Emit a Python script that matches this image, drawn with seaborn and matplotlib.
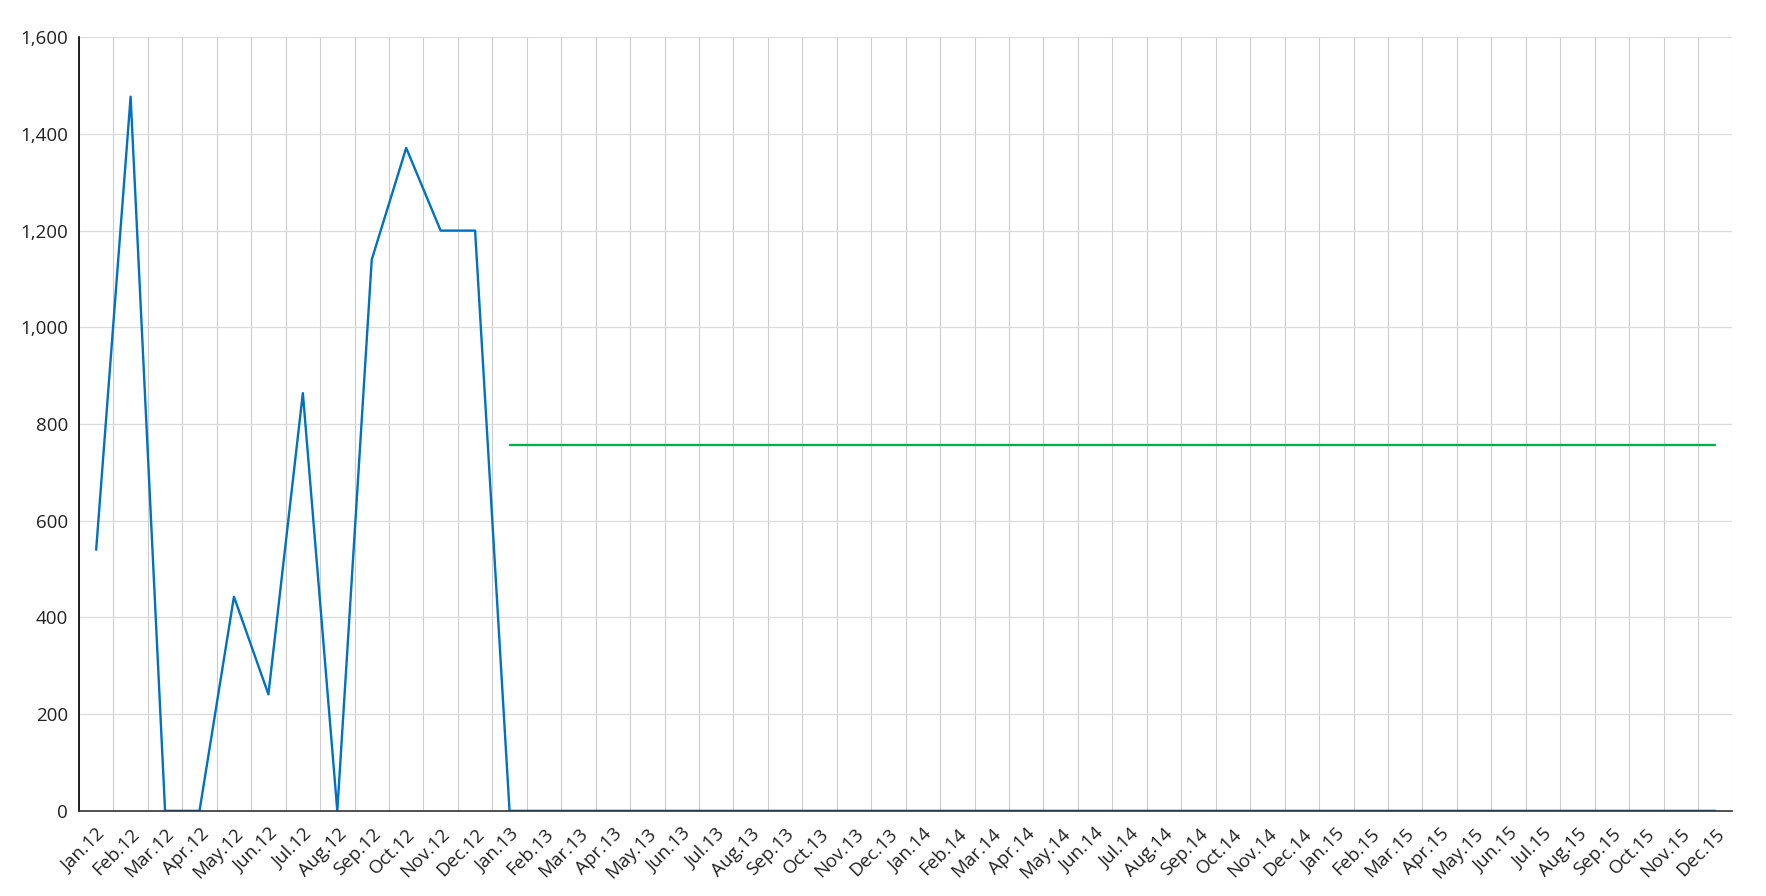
import numpy as np
import pandas as pd
import matplotlib
matplotlib.use("Agg")
import matplotlib.pyplot as plt
import seaborn as sns

# ------------------------------------------------------------------
# Datos
# ------------------------------------------------------------------
meses = ["Jan", "Feb", "Mar", "Apr", "May", "Jun",
         "Jul", "Aug", "Sep", "Oct", "Nov", "Dec"]
anios = ["12", "13", "14", "15"]
etiquetas = [f"{m}.{a}" for a in anios for m in meses]

valores_2012 = [540, 1477, 0, 0, 443, 241, 864, 0, 1140, 1371, 1200, 1200]
valores_resto = [0] * 36  # Jan.13 - Dec.15
serie_azul = valores_2012 + valores_resto

# linea verde desde Jan.13 hasta Dec.15
serie_verde = [None] * 12 + [757] * 36

df = pd.DataFrame({
    "pos": np.arange(len(etiquetas)),
    "mes": etiquetas,
    "azul": serie_azul,
    "verde": pd.array(serie_verde, dtype="Float64"),
})

# ------------------------------------------------------------------
# Grafico
# ------------------------------------------------------------------
sns.set_style("white")
plt.rcParams["font.family"] = ["Open Sans", "DejaVu Sans"]

fig, ax = plt.subplots(figsize=(17.66, 8.96), dpi=100)
fig.subplots_adjust(left=0.0447, right=0.981, top=0.9585, bottom=0.095)

sns.lineplot(data=df, x="pos", y="azul", color="#0070C0", linewidth=1.7, ax=ax)
sns.lineplot(data=df.dropna(), x="pos", y="verde", color="#00B050",
             linewidth=1.7, ax=ax)

ax.set_xlim(-0.5, len(etiquetas) - 0.5)
ax.set_ylim(0, 1600)

# ticks y
ax.set_yticks(range(0, 1601, 200))
ax.set_yticklabels([f"{v:,}" for v in range(0, 1601, 200)], fontsize=13.5,
                   color="#222222")
ax.tick_params(axis="y", direction="out", length=5, width=1, color="#000000", pad=3)
ax.yaxis.grid(True, color="#dcdcdc", linewidth=0.9)

# ticks x: etiquetas en el centro, lineas en los bordes
ax.set_xticks(df["pos"])
ax.set_xticklabels(df["mes"], rotation=45, ha="right",
                   rotation_mode="anchor", fontsize=13.5, color="#222222")
ax.tick_params(axis="x", which="major", length=0, pad=10)
ax.set_xticks(np.arange(-0.5, len(etiquetas)), minor=True)
ax.tick_params(axis="x", which="minor", direction="out", length=5, width=1,
               color="#333333")
ax.xaxis.grid(True, which="minor", color="#cccccc", linewidth=0.8)
ax.xaxis.grid(False, which="major")
ax.set_axisbelow(True)

ax.set_xlabel("")
ax.set_ylabel("")

for lado in ["top", "right"]:
    ax.spines[lado].set_visible(False)
ax.spines["left"].set_color("#000000")
ax.spines["bottom"].set_color("#333333")
ax.spines["left"].set_linewidth(1.2)
ax.spines["bottom"].set_linewidth(1.2)

plt.savefig("out.png", dpi=100)
plt.close()
